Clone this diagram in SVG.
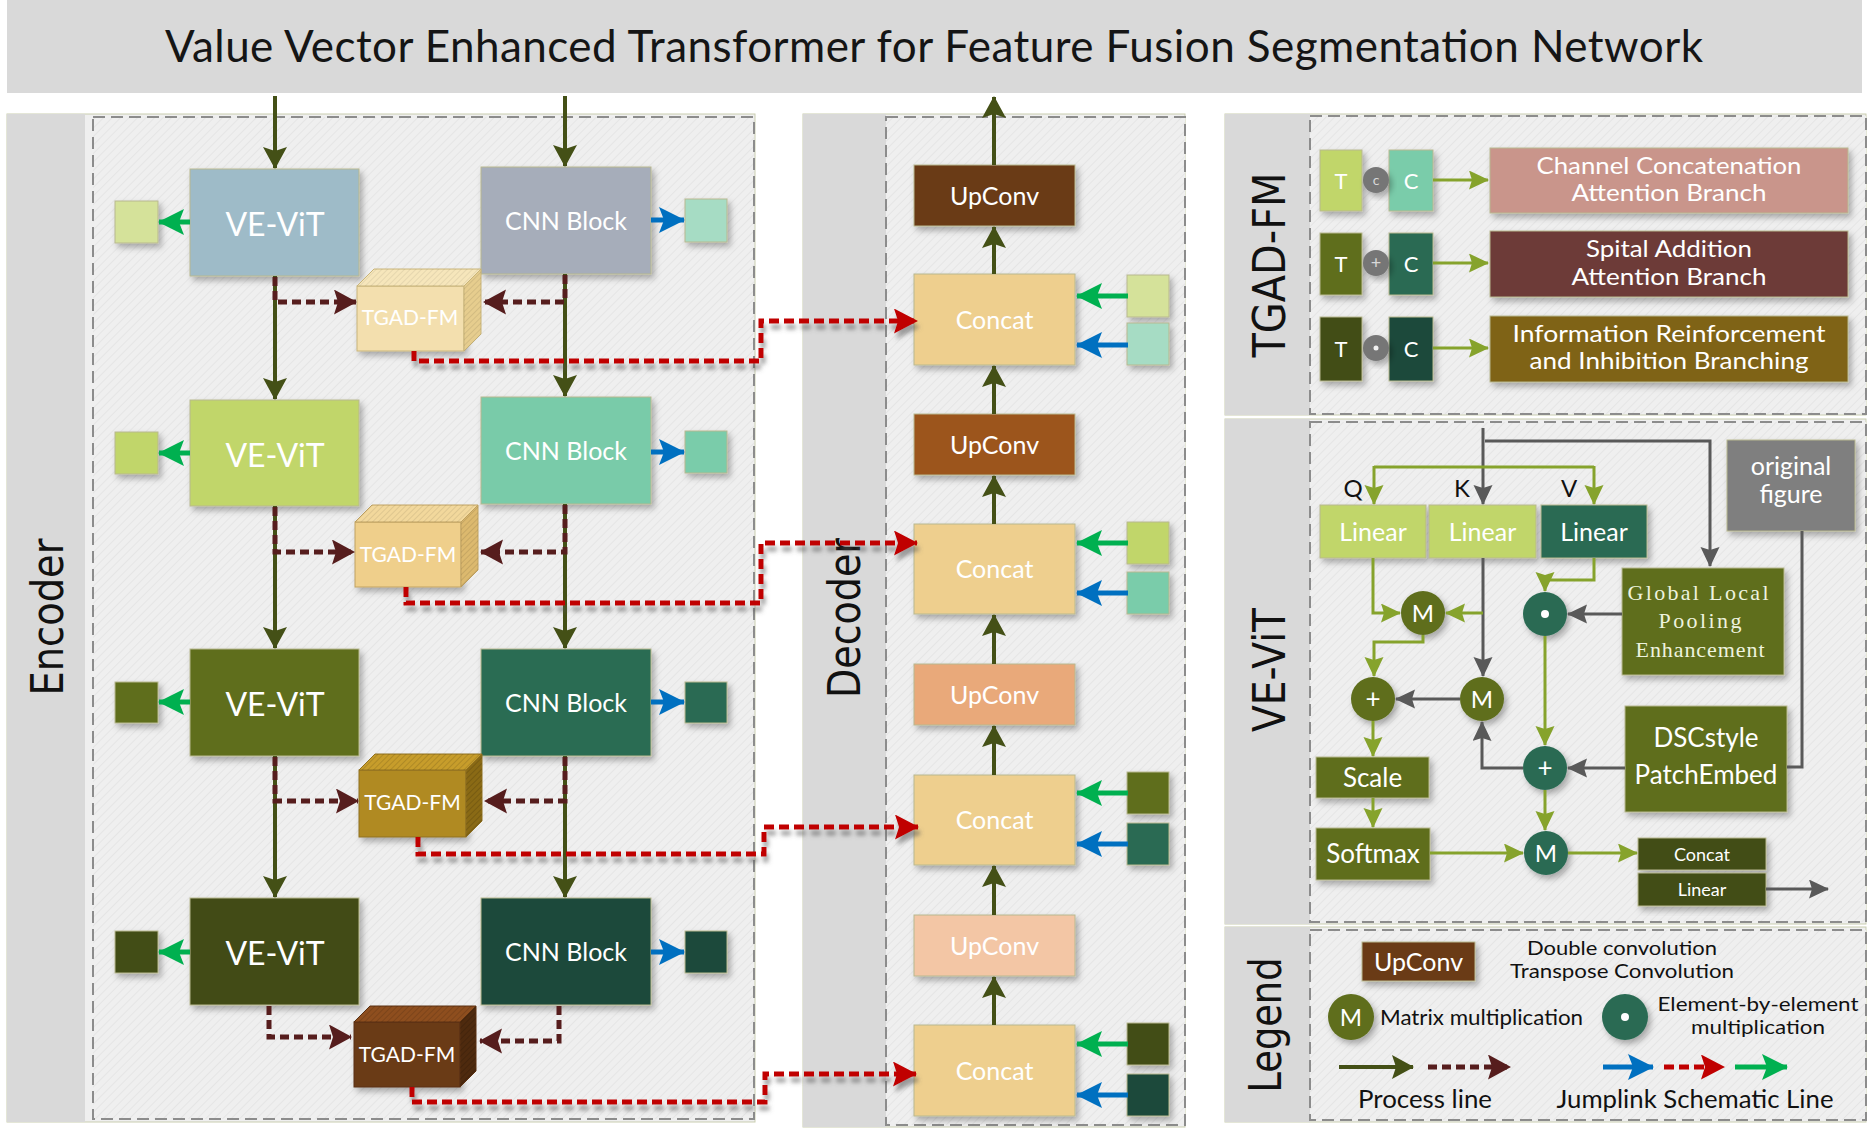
<svg xmlns="http://www.w3.org/2000/svg" width="1872" height="1134" viewBox="0 0 1872 1134">
<style>
.proc{fill:none;stroke:#445016;stroke-width:4;marker-end:url(#mP)}
.dsh{fill:none;stroke:#561d1d;stroke-width:5;stroke-dasharray:9 5;marker-end:url(#mD)}
.red{fill:none;stroke:#c00000;stroke-width:5;stroke-dasharray:10 5;marker-end:url(#mR)}
.gr{fill:none;stroke:#00b050;stroke-width:5;marker-end:url(#mG)}
.bl{fill:none;stroke:#0070c0;stroke-width:5;marker-end:url(#mB)}
.ol{fill:none;stroke:#86a32c;stroke-width:3;marker-end:url(#mO)}
.oln{fill:none;stroke:#86a32c;stroke-width:3}
.gy{fill:none;stroke:#595959;stroke-width:3;marker-end:url(#mY)}
.gyn{fill:none;stroke:#595959;stroke-width:3}
.lbl{font-family:Lato,"Open Sans",sans-serif;fill:#fff;text-anchor:middle}
.blk{font-family:Lato,"Open Sans",sans-serif;fill:#111}
.mono{font-family:"Liberation Serif","DejaVu Serif",serif;fill:#eef3df;text-anchor:middle;font-size:22px}
.vt{font-family:"DejaVu Sans",sans-serif;font-size:44px;fill:#111;text-anchor:middle}
.bx{stroke:#b8b890;stroke-width:1;filter:url(#sh)}
.panel{fill:#efefef;stroke:#c9cdb0;stroke-width:1}
.band{fill:#d9d9d9}
.dash{fill:url(#hatch);stroke:#8c8c8c;stroke-width:2;stroke-dasharray:12 6}
</style>
<defs>
<filter id="sh" x="-20%" y="-20%" width="150%" height="150%"><feDropShadow dx="3" dy="4" stdDeviation="3" flood-color="#000" flood-opacity="0.3"/></filter>
<filter id="rsh" x="-10%" y="-30%" width="130%" height="180%"><feDropShadow dx="2" dy="6" stdDeviation="2" flood-color="#555" flood-opacity="0.55"/></filter>
<pattern id="hatch" width="6" height="6" patternUnits="userSpaceOnUse" patternTransform="rotate(45)"><rect width="6" height="6" fill="#efefef"/><line x1="0" y1="0" x2="0" y2="6" stroke="#e5e5e5" stroke-width="2"/></pattern>
<pattern id="stripe" width="4" height="4" patternUnits="userSpaceOnUse" patternTransform="rotate(45)"><line x1="0" y1="0" x2="0" y2="4" stroke="#000" stroke-opacity="0.18" stroke-width="1.5"/></pattern>
<marker id="mP" markerUnits="userSpaceOnUse" markerWidth="24" markerHeight="26" refX="21" refY="12" orient="auto"><path d="M0,0 L22,12 L0,24 L4,12 z" fill="#445016"/></marker>
<marker id="mD" markerUnits="userSpaceOnUse" markerWidth="26" markerHeight="26" refX="22" refY="12.5" orient="auto"><path d="M0,0 L23,12.5 L0,25 L4,12.5 z" fill="#561d1d"/></marker>
<marker id="mR" markerUnits="userSpaceOnUse" markerWidth="26" markerHeight="26" refX="23" refY="12.5" orient="auto"><path d="M0,0 L24,12.5 L0,25 L4,12.5 z" fill="#c00000"/></marker>
<marker id="mG" markerUnits="userSpaceOnUse" markerWidth="28" markerHeight="28" refX="25" refY="13" orient="auto"><path d="M0,0 L26,13 L0,26 L5,13 z" fill="#00b050"/></marker>
<marker id="mB" markerUnits="userSpaceOnUse" markerWidth="28" markerHeight="28" refX="25" refY="13" orient="auto"><path d="M0,0 L26,13 L0,26 L5,13 z" fill="#0070c0"/></marker>
<marker id="mO" markerUnits="userSpaceOnUse" markerWidth="22" markerHeight="20" refX="19" refY="9.5" orient="auto"><path d="M0,0 L20,9.5 L0,19 L3,9.5 z" fill="#86a32c"/></marker>
<marker id="mY" markerUnits="userSpaceOnUse" markerWidth="22" markerHeight="20" refX="19" refY="9.5" orient="auto"><path d="M0,0 L20,9.5 L0,19 L3,9.5 z" fill="#595959"/></marker>
</defs>

<rect width="1872" height="1134" fill="#ffffff"/>

<g id="title">
<rect x="7" y="0" width="1855" height="93" fill="#d9d9d9"/>
<text x="934" y="62" font-family="Lato,'Open Sans',sans-serif" font-size="44" fill="#151515" text-anchor="middle" textLength="1538" lengthAdjust="spacing">Value Vector Enhanced Transformer for Feature Fusion Segmentation Network</text>
</g>

<g id="encoder-panel">
<rect class="panel" x="7" y="114" width="748" height="1008"/>
<rect class="band" x="7" y="114" width="78" height="1008"/>
<rect class="dash" x="93" y="117" width="661" height="1002"/>
<text class="vt" transform="translate(63,617) rotate(-90)" textLength="157" lengthAdjust="spacingAndGlyphs">Encoder</text>
</g>

<g id="decoder-panel">
<rect class="panel" x="803" y="114" width="382" height="1013"/>
<rect class="band" x="803" y="114" width="83" height="1013"/>
<rect class="dash" x="886" y="117" width="299" height="1008"/>
<text class="vt" transform="translate(860,618) rotate(-90)" textLength="160" lengthAdjust="spacingAndGlyphs">Decoder</text>
</g>

<g id="tgad-panel">
<rect class="panel" x="1225" y="114" width="641" height="301"/>
<rect class="band" x="1225" y="114" width="85" height="301"/>
<rect class="dash" x="1310" y="116" width="556" height="298"/>
<text class="vt" transform="translate(1285,265) rotate(-90)" textLength="185" lengthAdjust="spacingAndGlyphs">TGAD-FM</text>
</g>

<g id="vevit-panel">
<rect class="panel" x="1225" y="419" width="641" height="505"/>
<rect class="band" x="1225" y="419" width="85" height="505"/>
<rect class="dash" x="1310" y="422" width="556" height="500"/>
<text class="vt" transform="translate(1285,670) rotate(-90)" textLength="124" lengthAdjust="spacingAndGlyphs">VE-ViT</text>
</g>

<g id="legend-panel">
<rect class="panel" x="1225" y="927" width="641" height="195"/>
<rect class="band" x="1225" y="927" width="85" height="195"/>
<rect class="dash" x="1310" y="930" width="556" height="190"/>
<text class="vt" transform="translate(1281,1025) rotate(-90)" textLength="135" lengthAdjust="spacingAndGlyphs">Legend</text>
</g>

<!-- Encoder nodes -->
<g id="vevit1"><rect class="bx" x="190" y="169" width="169" height="107" fill="#9ebbc8"/><text class="lbl" x="275" y="236" font-size="32">VE-ViT</text></g>
<g id="cnn1"><rect class="bx" x="481" y="167" width="170" height="107" fill="#a6adba"/><text class="lbl" x="566" y="230" font-size="25">CNN Block</text></g>
<g id="vevit2"><rect class="bx" x="190" y="400" width="169" height="106" fill="#c1d66a"/><text class="lbl" x="275" y="466.5" font-size="32">VE-ViT</text></g>
<g id="cnn2"><rect class="bx" x="481" y="397" width="170" height="107" fill="#79cba9"/><text class="lbl" x="566" y="460" font-size="25">CNN Block</text></g>
<g id="vevit3"><rect class="bx" x="190" y="649" width="169" height="107" fill="#5f6e1f"/><text class="lbl" x="275" y="716" font-size="32">VE-ViT</text></g>
<g id="cnn3"><rect class="bx" x="481" y="649" width="170" height="107" fill="#2b6c52"/><text class="lbl" x="566" y="712" font-size="25">CNN Block</text></g>
<g id="vevit4"><rect class="bx" x="190" y="898" width="169" height="107" fill="#434c14"/><text class="lbl" x="275" y="965" font-size="32">VE-ViT</text></g>
<g id="cnn4"><rect class="bx" x="481" y="898" width="170" height="107" fill="#1e4a3a"/><text class="lbl" x="566" y="961" font-size="25">CNN Block</text></g>

<g id="enc-squares">
<rect class="bx" x="115" y="201" width="43" height="42" fill="#d5e29a"/>
<rect class="bx" x="685" y="199" width="42" height="43" fill="#a6dcc4"/>
<rect class="bx" x="115" y="432" width="43" height="42" fill="#c1d66a"/>
<rect class="bx" x="685" y="431" width="42" height="42" fill="#7accaa"/>
<rect class="bx" x="115" y="682" width="43" height="41" fill="#5e6e1e"/>
<rect class="bx" x="685" y="682" width="42" height="41" fill="#2a6b53"/>
<rect class="bx" x="115" y="931" width="43" height="42" fill="#434d14"/>
<rect class="bx" x="685" y="931" width="42" height="42" fill="#1e4a3a"/>
</g>

<g id="tgad1">
<rect x="357" y="286" width="107" height="65" fill="#f3dfae" stroke="#c8b47a" filter="url(#sh)"/>
<path d="M357,286 L374,269 L481,269 L464,286 z" fill="#f6e6bb" stroke="#c8b47a"/>
<path d="M357,286 L374,269 L481,269 L464,286 z" fill="url(#stripe)" opacity="0.5"/>
<path d="M464,286 L481,269 L481,334 L464,351 z" fill="#e6cd8e" stroke="#c8b47a"/>
<path d="M464,286 L481,269 L481,334 L464,351 z" fill="url(#stripe)" opacity="0.6"/>
<text class="lbl" x="410" y="325" font-size="21">TGAD-FM</text>
</g>
<g id="tgad2">
<rect x="355" y="522" width="106" height="65" fill="#efcf8b" stroke="#c0a262" filter="url(#sh)"/>
<path d="M355,522 L372,505 L478,505 L461,522 z" fill="#f2d89c" stroke="#c0a262"/>
<path d="M355,522 L372,505 L478,505 L461,522 z" fill="url(#stripe)" opacity="0.6"/>
<path d="M461,522 L478,505 L478,570 L461,587 z" fill="#dcb96e" stroke="#c0a262"/>
<path d="M461,522 L478,505 L478,570 L461,587 z" fill="url(#stripe)" opacity="0.7"/>
<text class="lbl" x="408" y="562" font-size="21">TGAD-FM</text>
</g>
<g id="tgad3">
<rect x="359" y="770" width="107" height="67" fill="#b08a22" stroke="#8f7020" filter="url(#sh)"/>
<path d="M359,770 L375,754 L482,754 L466,770 z" fill="#c79d2b" stroke="#8f7020"/>
<path d="M359,770 L375,754 L482,754 L466,770 z" fill="url(#stripe)" opacity="0.9"/>
<path d="M466,770 L482,754 L482,821 L466,837 z" fill="#8a6a15" stroke="#8f7020"/>
<path d="M466,770 L482,754 L482,821 L466,837 z" fill="url(#stripe)"/>
<text class="lbl" x="412.5" y="810" font-size="21">TGAD-FM</text>
</g>
<g id="tgad4">
<rect x="354" y="1022" width="106" height="65" fill="#6b3a15" stroke="#5a3012" filter="url(#sh)"/>
<path d="M354,1022 L370,1006 L476,1006 L460,1022 z" fill="#8e4e1e" stroke="#5a3012"/>
<path d="M354,1022 L370,1006 L476,1006 L460,1022 z" fill="url(#stripe)" opacity="0.9"/>
<path d="M460,1022 L476,1006 L476,1071 L460,1087 z" fill="#4e2a0e" stroke="#5a3012"/>
<path d="M460,1022 L476,1006 L476,1071 L460,1087 z" fill="url(#stripe)"/>
<text class="lbl" x="407" y="1062" font-size="21">TGAD-FM</text>
</g>

<!-- Decoder nodes -->
<g id="upconv1"><rect class="bx" x="914" y="165" width="161" height="61" fill="#6a3a15"/><text class="lbl" x="994.5" y="205" font-size="25">UpConv</text></g>
<g id="concat1"><rect class="bx" x="914" y="274" width="161" height="91" fill="#eecf8e"/><text class="lbl" x="994.5" y="329" font-size="25">Concat</text></g>
<g id="upconv2"><rect class="bx" x="914" y="414" width="161" height="61" fill="#9c541e"/><text class="lbl" x="994.5" y="454" font-size="25">UpConv</text></g>
<g id="concat2"><rect class="bx" x="914" y="524" width="161" height="90" fill="#eecf8e"/><text class="lbl" x="994.5" y="578" font-size="25">Concat</text></g>
<g id="upconv3"><rect class="bx" x="914" y="664" width="161" height="61" fill="#e9a97a"/><text class="lbl" x="994.5" y="703.5" font-size="25">UpConv</text></g>
<g id="concat3"><rect class="bx" x="914" y="775" width="161" height="90" fill="#eecf8e"/><text class="lbl" x="994.5" y="829" font-size="25">Concat</text></g>
<g id="upconv4"><rect class="bx" x="914" y="915" width="161" height="61" fill="#f3c6a5"/><text class="lbl" x="994.5" y="954.5" font-size="25">UpConv</text></g>
<g id="concat4"><rect class="bx" x="914" y="1025" width="161" height="91" fill="#eecf8e"/><text class="lbl" x="994.5" y="1079.5" font-size="25">Concat</text></g>

<g id="dec-squares">
<rect class="bx" x="1127" y="275" width="42" height="42" fill="#d5e29a"/>
<rect class="bx" x="1127" y="323" width="42" height="42" fill="#a6dcc4"/>
<rect class="bx" x="1127" y="522" width="42" height="42" fill="#c1d66a"/>
<rect class="bx" x="1127" y="572" width="42" height="42" fill="#7accaa"/>
<rect class="bx" x="1127" y="772" width="42" height="42" fill="#5e6e1e"/>
<rect class="bx" x="1127" y="823" width="42" height="42" fill="#2a6b53"/>
<rect class="bx" x="1127" y="1023" width="42" height="42" fill="#434d14"/>
<rect class="bx" x="1127" y="1074" width="42" height="42" fill="#1e4a3a"/>
</g>

<!-- TGAD-FM panel nodes -->
<g id="tg-row1">
<rect class="bx" x="1320" y="150" width="42" height="61" fill="#c1d66a"/><text class="lbl" x="1341" y="188.5" font-size="22">T</text>
<rect class="bx" x="1389" y="150" width="44" height="61" fill="#7accaa"/><text class="lbl" x="1411" y="188.5" font-size="22">C</text>
<circle cx="1376" cy="180" r="13" fill="#767676" filter="url(#sh)"/><text x="1376" y="185" font-family="Lato,sans-serif" font-size="14" fill="#d8d8d8" text-anchor="middle">c</text>
<rect class="bx" x="1490" y="148" width="358" height="65" fill="#c9958b"/>
<text class="lbl" x="1669" y="174" font-size="24" textLength="265" lengthAdjust="spacingAndGlyphs">Channel Concatenation</text>
<text class="lbl" x="1669" y="201" font-size="24" textLength="195" lengthAdjust="spacingAndGlyphs">Attention Branch</text>
</g>
<g id="tg-row2">
<rect class="bx" x="1320" y="233" width="42" height="62" fill="#5e6e1e"/><text class="lbl" x="1341" y="272" font-size="22">T</text>
<rect class="bx" x="1389" y="233" width="44" height="62" fill="#2a6b53"/><text class="lbl" x="1411" y="272" font-size="22">C</text>
<circle cx="1376" cy="263" r="13" fill="#767676" filter="url(#sh)"/><text x="1376" y="269" font-family="Lato,sans-serif" font-size="18" fill="#d8d8d8" text-anchor="middle">+</text>
<rect class="bx" x="1490" y="231" width="358" height="66" fill="#6d3b39"/>
<text class="lbl" x="1669" y="257" font-size="24" textLength="166" lengthAdjust="spacingAndGlyphs">Spital Addition</text>
<text class="lbl" x="1669" y="285" font-size="24" textLength="195" lengthAdjust="spacingAndGlyphs">Attention Branch</text>
</g>
<g id="tg-row3">
<rect class="bx" x="1320" y="317" width="42" height="64" fill="#434d14"/><text class="lbl" x="1341" y="357" font-size="22">T</text>
<rect class="bx" x="1389" y="317" width="44" height="64" fill="#1e4a3a"/><text class="lbl" x="1411" y="357" font-size="22">C</text>
<circle cx="1376" cy="348" r="13" fill="#767676" filter="url(#sh)"/><circle cx="1376" cy="348" r="2.5" fill="#f0f0f0"/>
<rect class="bx" x="1490" y="316" width="358" height="66" fill="#7f6315"/>
<text class="lbl" x="1669" y="342" font-size="24" textLength="313" lengthAdjust="spacingAndGlyphs">Information Reinforcement</text>
<text class="lbl" x="1669" y="369" font-size="24" textLength="279" lengthAdjust="spacingAndGlyphs">and Inhibition Branching</text>
</g>

<!-- VE-ViT panel nodes -->
<g id="lin-q"><rect class="bx" x="1320" y="505" width="106" height="53" fill="#c1d66a"/><text class="lbl" x="1373" y="540.5" font-size="25">Linear</text></g>
<g id="lin-k"><rect class="bx" x="1429" y="505" width="107" height="53" fill="#c1d66a"/><text class="lbl" x="1482.5" y="540.5" font-size="25">Linear</text></g>
<g id="lin-v"><rect class="bx" x="1541" y="505" width="106" height="53" fill="#2a6b53"/><text class="lbl" x="1594" y="540.5" font-size="25">Linear</text></g>
<g id="qkv-labels">
<text class="blk" x="1353" y="497" font-size="24" text-anchor="middle">Q</text>
<text class="blk" x="1462" y="497" font-size="24" text-anchor="middle">K</text>
<text class="blk" x="1569" y="497" font-size="24" text-anchor="middle">V</text>
</g>
<g id="orig-fig"><rect class="bx" x="1727" y="440" width="128" height="91" fill="#7f7f7f"/><text class="lbl" x="1791" y="475" font-size="25">original</text><text class="lbl" x="1791" y="503" font-size="25">figure</text></g>
<g id="glpe"><rect class="bx" x="1622" y="568" width="162" height="107" fill="#5e6e1e"/><text class="mono" x="1698" y="600" textLength="141" lengthAdjust="spacing">Global Local</text><text class="mono" x="1700" y="628" textLength="83" lengthAdjust="spacing">Pooling</text><text class="mono" x="1700" y="657" textLength="129" lengthAdjust="spacing">Enhancement</text></g>
<g id="dsc"><rect class="bx" x="1625" y="706" width="162" height="106" fill="#5e6e1e"/><text class="lbl" x="1706" y="747" font-size="26">DSCstyle</text><text class="lbl" x="1706" y="784" font-size="26">PatchEmbed</text></g>
<g id="scale"><rect class="bx" x="1316" y="757" width="113" height="41" fill="#5e6e1e"/><text class="lbl" x="1372.5" y="787" font-size="26">Scale</text></g>
<g id="softmax"><rect class="bx" x="1316" y="828" width="114" height="52" fill="#5e6e1e"/><text class="lbl" x="1373" y="863" font-size="26">Softmax</text></g>
<g id="concat-s"><rect class="bx" x="1638" y="838" width="128" height="32" fill="#434d14"/><text class="lbl" x="1702" y="860.5" font-size="18">Concat</text></g>
<g id="linear-s"><rect class="bx" x="1638" y="873" width="128" height="33" fill="#434d14"/><text class="lbl" x="1702" y="896" font-size="18">Linear</text></g>
<g id="m1"><circle cx="1423" cy="613" r="22" fill="#5e6e1e" filter="url(#sh)"/><text class="lbl" x="1423" y="621.5" font-size="24">M</text></g>
<g id="plus1"><circle cx="1373" cy="699" r="22" fill="#5e6e1e" filter="url(#sh)"/><text class="lbl" x="1373" y="707.5" font-size="26">+</text></g>
<g id="m2"><circle cx="1482" cy="699" r="22" fill="#5e6e1e" filter="url(#sh)"/><text class="lbl" x="1482" y="707.5" font-size="24">M</text></g>
<g id="dot1"><circle cx="1545" cy="614" r="22" fill="#2a6b53" filter="url(#sh)"/><circle cx="1545" cy="614" r="4" fill="#ffffff"/></g>
<g id="plus2"><circle cx="1545" cy="768" r="22" fill="#2a6b53" filter="url(#sh)"/><text class="lbl" x="1545" y="776.5" font-size="26">+</text></g>
<g id="m3"><circle cx="1546" cy="853" r="22" fill="#2a6b53" filter="url(#sh)"/><text class="lbl" x="1546" y="861.5" font-size="24">M</text></g>

<!-- Legend nodes -->
<g id="lg-upconv"><rect class="bx" x="1362" y="942" width="113" height="39" fill="#6b3a15"/><text class="lbl" x="1418.5" y="970.5" font-size="25">UpConv</text></g>
<g id="lg-upconv-text"><text class="blk" x="1622" y="955" font-size="20" text-anchor="middle" textLength="190" lengthAdjust="spacingAndGlyphs">Double convolution</text><text class="blk" x="1622" y="978" font-size="20" text-anchor="middle" textLength="224" lengthAdjust="spacingAndGlyphs">Transpose Convolution</text></g>
<g id="lg-m"><circle cx="1351" cy="1017" r="23" fill="#5e6e1e" filter="url(#sh)"/><text class="lbl" x="1351" y="1025.5" font-size="24">M</text><text class="blk" x="1380" y="1025" font-size="22" textLength="203" lengthAdjust="spacingAndGlyphs">Matrix multiplication</text></g>
<g id="lg-dot"><circle cx="1625" cy="1017" r="23" fill="#2a6b53" filter="url(#sh)"/><circle cx="1625" cy="1017" r="4" fill="#ffffff"/><text class="blk" x="1758" y="1011" font-size="20" text-anchor="middle" textLength="201" lengthAdjust="spacingAndGlyphs">Element-by-element</text><text class="blk" x="1758" y="1034" font-size="20" text-anchor="middle" textLength="134" lengthAdjust="spacingAndGlyphs">multiplication</text></g>
<g id="lg-lines-text"><text class="blk" x="1425" y="1108" font-size="25" text-anchor="middle" textLength="134" lengthAdjust="spacingAndGlyphs">Process line</text><text class="blk" x="1695" y="1108" font-size="25" text-anchor="middle" textLength="277" lengthAdjust="spacingAndGlyphs">Jumplink Schematic Line</text></g>

<!-- Connectors -->
<g id="connectors">
<path class="proc" d="M275,96 L275,168"/>
<path class="proc" d="M565,96 L565,166"/>
<path class="proc" d="M275,276 L275,399"/>
<path class="proc" d="M565,274 L565,396"/>
<path class="proc" d="M275,506 L275,648"/>
<path class="proc" d="M565,504 L565,648"/>
<path class="proc" d="M275,756 L275,897"/>
<path class="proc" d="M565,756 L565,897"/>
<path class="dsh" d="M275,277 L275,302 L356,302"/>
<path class="dsh" d="M565,275 L565,302 L484,302"/>
<path class="dsh" d="M275,507 L275,552 L354,552"/>
<path class="dsh" d="M565,505 L565,552 L481,552"/>
<path class="dsh" d="M275,757 L275,801 L358,801"/>
<path class="dsh" d="M565,757 L565,801 L485,801"/>
<path class="dsh" d="M269,1006 L269,1037 L351,1037"/>
<path class="dsh" d="M559,1006 L559,1041 L480,1041"/>
<path class="gr" d="M190,222 L159,222"/>
<path class="bl" d="M651,220 L684,220"/>
<path class="gr" d="M190,453 L159,453"/>
<path class="bl" d="M651,452 L684,452"/>
<path class="gr" d="M190,702 L159,702"/>
<path class="bl" d="M651,702 L684,702"/>
<path class="gr" d="M190,952 L159,952"/>
<path class="bl" d="M651,952 L684,952"/>
<g filter="url(#rsh)">
<path class="red" d="M414,351 L414,361 L761,361 L761,321 L917,321"/>
<path class="red" d="M406,587 L406,603 L761,603 L761,543 L917,543"/>
<path class="red" d="M418,837 L418,854 L764,854 L764,827 L918,827"/>
<path class="red" d="M412,1087 L412,1102 L765,1102 L765,1074 L916,1074"/>
</g>
<path class="proc" d="M994,165 L994,97"/>
<path class="proc" d="M994,274 L994,227"/>
<path class="proc" d="M994,414 L994,366"/>
<path class="proc" d="M994,524 L994,476"/>
<path class="proc" d="M994,664 L994,615"/>
<path class="proc" d="M994,775 L994,726"/>
<path class="proc" d="M994,915 L994,866"/>
<path class="proc" d="M994,1025 L994,977"/>
<path class="gr" d="M1128,296 L1077,296"/>
<path class="bl" d="M1128,345 L1077,345"/>
<path class="gr" d="M1128,543 L1077,543"/>
<path class="bl" d="M1128,593 L1077,593"/>
<path class="gr" d="M1128,793 L1077,793"/>
<path class="bl" d="M1128,844 L1077,844"/>
<path class="gr" d="M1128,1044 L1077,1044"/>
<path class="bl" d="M1128,1095 L1077,1095"/>
<path class="ol" d="M1433,180 L1488,180"/>
<path class="ol" d="M1433,263 L1488,263"/>
<path class="ol" d="M1433,348 L1488,348"/>
<path class="gy" d="M1483,428 L1483,504"/>
<path class="gy" d="M1485,441 L1710,441 L1710,566"/>
<path class="oln" d="M1374,467 L1594,467"/>
<path class="ol" d="M1374,466 L1374,504"/>
<path class="ol" d="M1594,466 L1594,504"/>
<path class="gy" d="M1483,558 L1483,676"/>
<path class="ol" d="M1373,558 L1373,613 L1400,613"/>
<path class="ol" d="M1483,613 L1446,613"/>
<path class="ol" d="M1423,635 L1423,642 L1374,642 L1374,676"/>
<path class="gy" d="M1460,699 L1396,699"/>
<path class="ol" d="M1594,558 L1594,580 L1545,580 L1545,591"/>
<path class="gy" d="M1622,614 L1568,614"/>
<path class="ol" d="M1545,636 L1545,745"/>
<path class="gy" d="M1625,768 L1568,768"/>
<path class="gy" d="M1523,768 L1482,768 L1482,722"/>
<path class="gyn" d="M1802,531 L1802,767 L1787,767"/>
<path class="ol" d="M1373,721 L1373,756"/>
<path class="ol" d="M1373,798 L1373,827"/>
<path class="ol" d="M1430,853 L1523,853"/>
<path class="ol" d="M1545,790 L1545,830"/>
<path class="ol" d="M1568,853 L1637,853"/>
<path class="gy" d="M1766,889 L1828,889"/>
<path class="proc" d="M1339,1067 L1413,1067"/>
<path class="dsh" d="M1428,1067 L1510,1067"/>
<path class="bl" d="M1603,1067 L1653,1067"/>
<path class="red" d="M1664,1067 L1724,1067"/>
<path class="gr" d="M1735,1067 L1787,1067"/>
</g>
</svg>
